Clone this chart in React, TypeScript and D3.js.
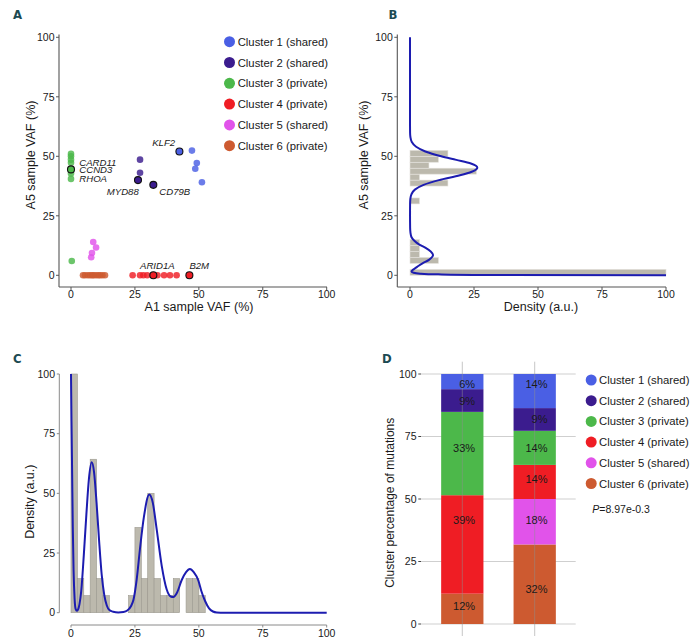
import React from "react";
import * as d3 from "d3";

// ---------- shared ----------
const clusterNames = [
  "Cluster 1 (shared)",
  "Cluster 2 (shared)",
  "Cluster 3 (private)",
  "Cluster 4 (private)",
  "Cluster 5 (shared)",
  "Cluster 6 (private)",
];
const clusterColors = ["#4a5fe4", "#3b1c8e", "#4cb84a", "#ef1d24", "#e153ea", "#cd5a30"];
const axisTicks = [0, 25, 50, 75, 100];

// ---------- panel A: scatter ----------
const pointA1 = [
  42.4, 47.3, 49.2, 48.6, 51.2,
  27.0, 27.0, 26.2, 32.2,
  0, 0, 0, 0, 0, 0, 0, 0.3,
  24.1, 27.0, 28.3, 29.8, 32.2, 33.8, 36.4, 38.7, 41.3, 46.3,
  8.7, 9.8, 8.2, 7.9,
  4.7, 5.5, 6.6, 7.5, 8.3, 8.9, 9.8, 10.7, 11.4, 12.3, 13.3,
];
const pointA5 = [
  52.0, 52.4, 47.2, 44.8, 39.1,
  48.6, 43.1, 40.0, 38.0,
  51.0, 50.0, 48.6, 47.3, 44.5, 42.8, 40.5, 6.0,
  0, 0, 0, 0, 0, 0, 0, 0, 0, 0,
  14.0, 11.7, 9.4, 7.6,
  0, 0, 0, 0, 0, 0, 0, 0, 0, 0, 0,
];
const pointCluster = [
  0, 0, 0, 0, 0,
  1, 1, 1, 1,
  2, 2, 2, 2, 2, 2, 2, 2,
  3, 3, 3, 3, 3, 3, 3, 3, 3, 3,
  4, 4, 4, 4,
  5, 5, 5, 5, 5, 5, 5, 5, 5, 5, 5,
];
const geneNames = ["KLF2", "MYD88", "CD79B", "CARD11", "CCND3", "RHOA", "ARID1A", "B2M"];
const genePoint = [0, 7, 8, 12, 13, 15, 21, 26];
const geneOutlined = [true, true, true, false, true, false, true, true];
// label placement (layout only)
const geneLabelLayout: Record<string, { dx: number; dy: number; anchor: string }> = {
  KLF2: { dx: -4.3, dy: -5.5, anchor: "end" },
  MYD88: { dx: 0.8, dy: 15, anchor: "end" },
  CD79B: { dx: 6, dy: 10.5, anchor: "start" },
  CARD11: { dx: 8.3, dy: 2.8, anchor: "start" },
  CCND3: { dx: 8.3, dy: 3.3, anchor: "start" },
  RHOA: { dx: 8.3, dy: 2.8, anchor: "start" },
  ARID1A: { dx: 4, dy: -6.6, anchor: "middle" },
  B2M: { dx: 0, dy: -6.6, anchor: "start" },
};

// ---------- panel B: A5 VAF histogram + density ----------
const binWidth = 2.5;
const binStartB = [0, 5, 7.5, 10, 12.5, 30, 37.5, 40, 42.5, 45, 47.5, 50];
const binCountB = [27, 3, 1, 1, 1, 1, 4, 1, 7, 2, 3, 4];
const curveVafB = [
  0, 0.15, 0.4, 0.7, 1.1, 1.6, 2.2, 3, 4, 5, 6.5, 8.5, 10, 11.5, 13, 14.5, 16, 18, 20, 25,
  30, 32, 34, 36, 38, 40, 42, 43.5, 45.2, 47, 48.5, 50, 52, 54, 56, 58, 60, 65, 100,
];
const curveDensB = [
  100, 30, 11, 4, 1.4, 0.6, 1.0, 2.1, 3.4, 4.9, 7.4, 9.0, 8.1, 6.1, 3.5, 1.7, 0.6, 0.17, 0.05, 0.01,
  0.03, 0.12, 0.55, 1.9, 5.3, 11.3, 19.5, 24.1, 26.3, 23.8, 18.1, 12.2, 6.0, 2.4, 0.7, 0.17, 0.03, 0, 0,
];

// ---------- panel C: A1 VAF histogram + density ----------
const binStartC = [0, 2.5, 5, 7.5, 10, 12.5, 22.5, 25, 27.5, 30, 32.5, 35, 37.5, 40, 45, 47.5, 50];
const binCountC = [14, 2, 1, 9, 2, 1, 1, 5, 2, 7, 2, 1, 1, 2, 2, 2, 1];
const curveVafC = [
  0, 0.2, 0.45, 0.7, 1.0, 1.4, 1.8, 2.3, 2.8, 3.3, 4, 5, 6, 7, 8.1, 9, 10, 11, 12, 13, 14, 15,
  16.5, 18.5, 20.5, 22, 23.5, 24.4, 25.7, 27, 28.5, 30.6, 32, 33.5, 35.5, 37.4, 39, 40, 41.5,
  43.3, 45, 46.5, 48, 49.8, 51, 52.4, 54, 55.5, 57, 60, 100,
];
const curveDensC = [
  100, 80, 58, 36, 18, 6, 1.6, 0.8, 1.4, 3.5, 9, 24, 41, 56, 63, 59, 46, 30, 16, 7.5, 3, 1.1,
  0.4, 0.1, 0.3, 0.9, 2.8, 5.3, 14, 27, 40, 49.5, 46, 35, 19.5, 9.8, 6.8, 6.6, 8.5,
  13.7, 17, 18.3, 17, 13.5, 9, 5, 1.8, 0.5, 0.1, 0, 0,
];

// ---------- panel D: cluster composition ----------
const samples = ["A1", "A5"];
const countsA1 = [2, 3, 11, 13, 0, 4];
const countsA5 = [3, 2, 3, 3, 4, 7];
const labelLevelA1 = [96, 89.1, 70.5, 41.4, null, 7.1];
const labelLevelA5 = [96, 81.8, 70.5, 57.9, 41.4, 13.9];
const pValueText = "=8.97e-0.3";

const FONT = "'Liberation Sans', Arial, Helvetica, sans-serif";
const TXT = "#1a1a1a";

function PanelLetter({ x, y, t }: { x: number; y: number; t: string }) {
  return (
    <text x={x} y={y} fontFamily="'DejaVu Sans Condensed', 'DejaVu Sans', sans-serif" fontWeight="bold"
      fontSize={13} fill="#1c4a52" style={{ fontStretch: "condensed" }}>{t}</text>
  );
}

export default function App() {
  // scales
  const xA = d3.scaleLinear().domain([0, 100]).range([71, 326.7]);
  const yA = d3.scaleLinear().domain([0, 100]).range([275.3, 37.3]);
  const xB = d3.scaleLinear().domain([0, 100]).range([410, 666]);
  const yB = yA;
  const xC = d3.scaleLinear().domain([0, 100]).range([71, 326.7]);
  const yC = d3.scaleLinear().domain([0, 100]).range([612.7, 374]);
  const yD = d3.scaleLinear().domain([0, 100]).range([624, 374]);
  const xD = d3.scaleBand().domain(samples).range([426.1, 570.9]).paddingInner(0.416).paddingOuter(0.208);

  const maxB = d3.max(binCountB) as number;
  const maxC = d3.max(binCountC) as number;

  const lineB = d3
    .line<number>()
    .x((_, i) => xB(curveDensB[i]))
    .y((v) => yB(v))
    .curve(d3.curveMonotoneY)(curveVafB) as string;
  const lineC = d3
    .line<number>()
    .x((v) => xC(v))
    .y((_, i) => yC(curveDensC[i]))
    .curve(d3.curveMonotoneX)(curveVafC) as string;

  // stacked composition
  const comp = [countsA1, countsA5].map((c, si) => {
    const total = d3.sum(c);
    const levels = si === 0 ? labelLevelA1 : labelLevelA5;
    const order = [5, 4, 3, 2, 1, 0];
    let cum = 0;
    const segs = order.map((k) => {
      const pct = (c[k] / total) * 100;
      const seg = { k, y0: cum, y1: cum + pct, pct, level: levels[k] };
      cum += pct;
      return seg;
    });
    return { sample: samples[si], segs };
  });

  const axisColor = "#555";
  const tickFont = 10.5;

  return (
    <svg width={695} height={642} style={{ position: "absolute", left: 0, top: 0, background: "#fff" }}
      fontFamily={FONT}>
      <rect x={0} y={0} width={695} height={642} fill="#fff" />

      {/* ===================== A ===================== */}
      <PanelLetter x={13} y={19} t="A" />
      <line x1={59} x2={59} y1={34.5} y2={287} stroke={axisColor} strokeWidth={1.1} />
      <line x1={59} x2={327} y1={287} y2={287} stroke={axisColor} strokeWidth={1.1} />
      {axisTicks.map((t) => (
        <g key={"ax" + t}>
          <line x1={xA(t)} x2={xA(t)} y1={287} y2={290} stroke={axisColor} />
          <text x={xA(t)} y={297.5} textAnchor="middle" fontSize={tickFont} fill={TXT}>{t}</text>
          <line x1={56} x2={59} y1={yA(t)} y2={yA(t)} stroke={axisColor} />
          <text x={54.5} y={yA(t)} dy="0.36em" textAnchor="end" fontSize={tickFont} fill={TXT}>{t}</text>
        </g>
      ))}
      <text x={199} y={311} textAnchor="middle" fontSize={12.5} fill={TXT}>A1 sample VAF (%)</text>
      <text transform="translate(34.5,155) rotate(-90)" textAnchor="middle" fontSize={12.5} fill={TXT}>A5 sample VAF (%)</text>
      {pointA1.map((v, i) => (
        <circle key={"p" + i} cx={xA(v)} cy={yA(pointA5[i])} r={3.3} fill={clusterColors[pointCluster[i]]} fillOpacity={0.82} />
      ))}
      {geneNames.map((g, gi) => {
        const pi = genePoint[gi];
        const cx = xA(pointA1[pi]);
        const cy = yA(pointA5[pi]);
        const lay = geneLabelLayout[g];
        return (
          <g key={g}>
            {geneOutlined[gi] && (
              <circle cx={cx} cy={cy} r={3.5} fill={clusterColors[pointCluster[pi]]} stroke="#111" strokeWidth={1.1} />
            )}
            <text x={cx + lay.dx} y={cy + lay.dy} textAnchor={lay.anchor} fontSize={9.6} fontStyle="italic" fill={TXT}>{g}</text>
          </g>
        );
      })}
      {clusterNames.map((n, i) => (
        <g key={"la" + i}>
          <circle cx={229.5} cy={41.7 + i * 20.8} r={5.5} fill={clusterColors[i]} />
          <text x={237.7} y={41.7 + i * 20.8} dy="0.36em" fontSize={11.3} fill={TXT}>{n}</text>
        </g>
      ))}

      {/* ===================== B ===================== */}
      <PanelLetter x={388.5} y={19} t="B" />
      {binStartB.map((s, i) => (
        <rect key={"hb" + i} x={xB(0)} y={yB(s + binWidth)} width={xB((binCountB[i] / maxB) * 100) - xB(0)}
          height={yB(s) - yB(s + binWidth)} fill="#bcb9ad" stroke="#e4e2dc" strokeWidth={0.6} />
      ))}
      <path d={lineB} fill="none" stroke="#1c1cb0" strokeWidth={2} />
      <line x1={397.3} x2={397.3} y1={34.5} y2={287} stroke={axisColor} strokeWidth={1.1} />
      <line x1={397.3} x2={666} y1={287} y2={287} stroke={axisColor} strokeWidth={1.1} />
      {axisTicks.map((t) => (
        <g key={"bx" + t}>
          <line x1={xB(t)} x2={xB(t)} y1={287} y2={290} stroke={axisColor} />
          <text x={xB(t)} y={297.5} textAnchor="middle" fontSize={tickFont} fill={TXT}>{t}</text>
          <line x1={394.3} x2={397.3} y1={yB(t)} y2={yB(t)} stroke={axisColor} />
          <text x={392.8} y={yB(t)} dy="0.36em" textAnchor="end" fontSize={tickFont} fill={TXT}>{t}</text>
        </g>
      ))}
      <text x={541} y={311} textAnchor="middle" fontSize={12.5} fill={TXT}>Density (a.u.)</text>
      <text transform="translate(368.3,155) rotate(-90)" textAnchor="middle" fontSize={12.5} fill={TXT}>A5 sample VAF (%)</text>

      {/* ===================== C ===================== */}
      <PanelLetter x={13} y={363.3} t="C" />
      {binStartC.map((s, i) => {
        const d = (binCountC[i] / maxC) * 100;
        return (
          <rect key={"hc" + i} x={xC(s)} y={yC(d)} width={xC(s + binWidth) - xC(s)} height={yC(0) - yC(d)}
            fill="#bcb9ad" stroke="#9c998f" strokeWidth={0.6} />
        );
      })}
      <path d={lineC} fill="none" stroke="#1c1cb0" strokeWidth={2} />
      <line x1={59.3} x2={59.3} y1={yC(100)} y2={yC(0)} stroke="#8a8a8a" strokeWidth={1} />
      <line x1={xC(0)} x2={xC(100)} y1={625} y2={625} stroke="#8a8a8a" strokeWidth={1} />
      {axisTicks.map((t) => (
        <g key={"cx" + t}>
          <line x1={xC(t)} x2={xC(t)} y1={625} y2={627.5} stroke="#8a8a8a" />
          <text x={xC(t)} y={636.5} textAnchor="middle" fontSize={tickFont} fill={TXT}>{t}</text>
          <line x1={56.8} x2={59.3} y1={yC(t)} y2={yC(t)} stroke="#8a8a8a" />
          <text x={55} y={yC(t)} dy="0.36em" textAnchor="end" fontSize={tickFont} fill={TXT}>{t}</text>
        </g>
      ))}
      <text transform="translate(34,501.7) rotate(-90)" textAnchor="middle" fontSize={12.5} fill={TXT}>Density (a.u.)</text>

      {/* ===================== D ===================== */}
      <PanelLetter x={382} y={363.3} t="D" />
      {axisTicks.map((t) => (
        <g key={"dy" + t}>
          <line x1={421} x2={575.7} y1={yD(t)} y2={yD(t)} stroke="#cfcfcf" strokeWidth={1} />
          <line x1={418.3} x2={421} y1={yD(t)} y2={yD(t)} stroke="#444" strokeWidth={1} />
          <text x={416.5} y={yD(t)} dy="0.36em" textAnchor="end" fontSize={tickFont} fill={TXT}>{t}</text>
        </g>
      ))}
      {comp.map((c) => {
        const x0 = xD(c.sample) as number;
        const bw = xD.bandwidth();
        return (
          <g key={"bar" + c.sample}>
            {c.segs.filter((s) => s.pct > 0).map((s) => (
              <rect key={s.k} x={x0} y={yD(s.y1)} width={bw} height={yD(s.y0) - yD(s.y1)} fill={clusterColors[s.k]} />
            ))}
          </g>
        );
      })}
      {samples.map((s) => (
        <line key={"vg" + s} x1={(xD(s) as number) + xD.bandwidth() / 2} x2={(xD(s) as number) + xD.bandwidth() / 2}
          y1={361.7} y2={636} stroke="#8f8f8f" strokeOpacity={0.5} strokeWidth={1} />
      ))}
      {comp.map((c) => {
        const cx = (xD(c.sample) as number) + xD.bandwidth() / 2;
        return c.segs.filter((s) => s.pct > 0 && s.level != null).map((s) => (
          <text key={c.sample + "t" + s.k} x={cx + 12.8} y={yD(s.level as number)} dy="0.36em" textAnchor="end"
            fontSize={11} fill={TXT}>{Math.round(s.pct)}%</text>
        ));
      })}
      <text transform="translate(393.5,502.8) rotate(-90)" textAnchor="middle" fontSize={12} fill={TXT}>Cluster percentage of mutations</text>
      {clusterNames.map((n, i) => (
        <g key={"ld" + i}>
          <circle cx={591.2} cy={380 + i * 20.7} r={5.5} fill={clusterColors[i]} />
          <text x={599} y={380 + i * 20.7} dy="0.36em" fontSize={11.3} fill={TXT}>{n}</text>
        </g>
      ))}
      <text x={592.3} y={509.3} dy="0.36em" fontSize={10.5} fill={TXT}>
        <tspan fontStyle="italic">P</tspan>{pValueText}
      </text>
    </svg>
  );
}
